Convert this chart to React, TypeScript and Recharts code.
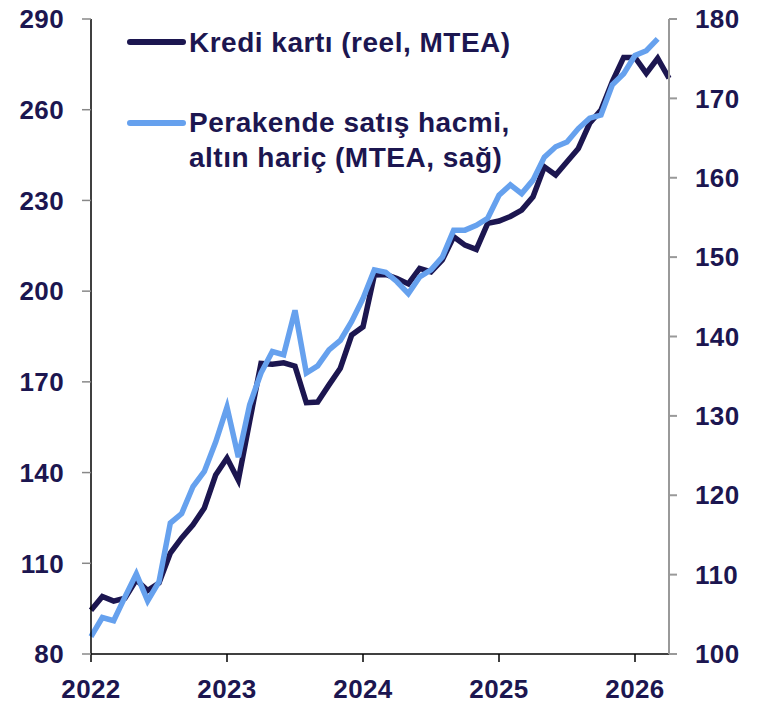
import React from "react";
import { LineChart, Line, XAxis, YAxis } from "recharts";

const NAVY = "#1c1650";
const LIGHT = "#66a1ee";
const FONT = "'Liberation Sans', Arial, sans-serif";

// monthly, Jan 2022 .. Apr 2026
const months: string[] = [];
for (let y = 2022; y <= 2026; y++) {
  for (let m = 1; m <= 12; m++) {
    if (y === 2026 && m > 4) break;
    months.push(`${y}-${String(m).padStart(2, "0")}`);
  }
}

// Kredi kartı (reel, MTEA) - left axis
const krediKarti = [
  94.5, 99, 97.5, 98.5, 104.5, 101, 103.5, 113.4, 118.4, 122.7, 128.3, 139.2,
  144.8, 137.5, 157, 176.1, 175.8, 176.3, 175.2, 163.1, 163.3, 169, 174.5, 185.5,
  188.2, 205.3, 205.5, 204.2, 202.4, 207.5, 206.4, 210.3, 218, 215.2, 213.8, 222.4,
  223.2, 224.7, 226.8, 231.2, 241.1, 238.4, 242.8, 247.2, 255.5, 259.9, 269.3, 277.3,
  277.3, 272, 277, 270.4,
];

// Perakende satış hacmi, altın hariç (MTEA) - right axis
const perakende = [
  102.2, 104.6, 104.2, 107.2, 110.1, 106.7, 109.1, 116.5, 117.7, 121.1, 123, 126.7,
  131.1, 124.8, 131.4, 135.4, 138.1, 137.7, 143.3, 135.4, 136.3, 138.3, 139.5, 141.9,
  144.8, 148.4, 148.1, 146.9, 145.4, 147.5, 148.4, 150, 153.4, 153.4, 154, 154.9,
  157.8, 159.1, 158, 159.7, 162.6, 163.9, 164.5, 166.2, 167.5, 167.9, 171.7, 173.1,
  175.4, 176, 177.5,
];

const xTicks = ["2022-01", "2023-01", "2024-01", "2025-01", "2026-01"];
const leftTicks = [80, 110, 140, 170, 200, 230, 260, 290];
const rightTicks = [100, 110, 120, 130, 140, 150, 160, 170, 180];

const data = months.map((date, i) => ({
  date,
  kredi: krediKarti[i],
  perakende: i < perakende.length ? perakende[i] : null,
}));

const tickStyle = { fill: NAVY, fontSize: 26, fontWeight: 700, fontFamily: FONT, letterSpacing: 0.4 };

export default function App() {
  return (
    <div style={{ position: "absolute", left: 0, top: 0, width: 760, height: 704, background: "#fff" }}>
      <LineChart width={760} height={704} data={data} margin={{ top: 19, right: 31, bottom: 0, left: 31 }}>
        <XAxis
          dataKey="date"
          ticks={xTicks}
          tickFormatter={(v: string) => v.slice(0, 4)}
          interval={0}
          height={50}
          tick={tickStyle}
          tickSize={8}
          tickMargin={18}
          axisLine={{ stroke: "#000", strokeWidth: 1.5 }}
          tickLine={{ stroke: "#000", strokeWidth: 1.5 }}
        />
        <YAxis
          yAxisId="left"
          domain={[80, 290]}
          ticks={leftTicks}
          interval={0}
          width={60}
          tick={tickStyle}
          tickSize={9}
          tickMargin={18}
          axisLine={{ stroke: "#000", strokeWidth: 1.5 }}
          tickLine={{ stroke: "#888", strokeWidth: 1.5 }}
        />
        <YAxis
          yAxisId="right"
          orientation="right"
          domain={[100, 180]}
          ticks={rightTicks}
          interval={0}
          width={60}
          tick={tickStyle}
          tickSize={8}
          tickMargin={18}
          axisLine={{ stroke: "#999", strokeWidth: 2 }}
          tickLine={{ stroke: "#999", strokeWidth: 2 }}
        />
        <Line
          yAxisId="left"
          dataKey="kredi"
          stroke={NAVY}
          strokeWidth={5.5}
          dot={false}
          type="linear"
          isAnimationActive={false}
        />
        <Line
          yAxisId="right"
          dataKey="perakende"
          stroke={LIGHT}
          strokeWidth={5.5}
          dot={false}
          type="linear"
          isAnimationActive={false}
        />
      </LineChart>
      <svg
        width={760}
        height={704}
        style={{ position: "absolute", left: 0, top: 0, pointerEvents: "none" }}
      >
        <g fontFamily={FONT} fontWeight={700} fontSize={28} fill={NAVY} letterSpacing={0.5}>
          <line x1={130} y1={42} x2={183} y2={42} stroke={NAVY} strokeWidth={6} strokeLinecap="round" />
          <text x={189} y={52}>Kredi kartı (reel, MTEA)</text>
          <line x1={130} y1={123} x2={183} y2={123} stroke={LIGHT} strokeWidth={6} strokeLinecap="round" />
          <text x={189} y={132}>Perakende satış hacmi,</text>
          <text x={189} y={167}>altın hariç (MTEA, sağ)</text>
        </g>
      </svg>
    </div>
  );
}
